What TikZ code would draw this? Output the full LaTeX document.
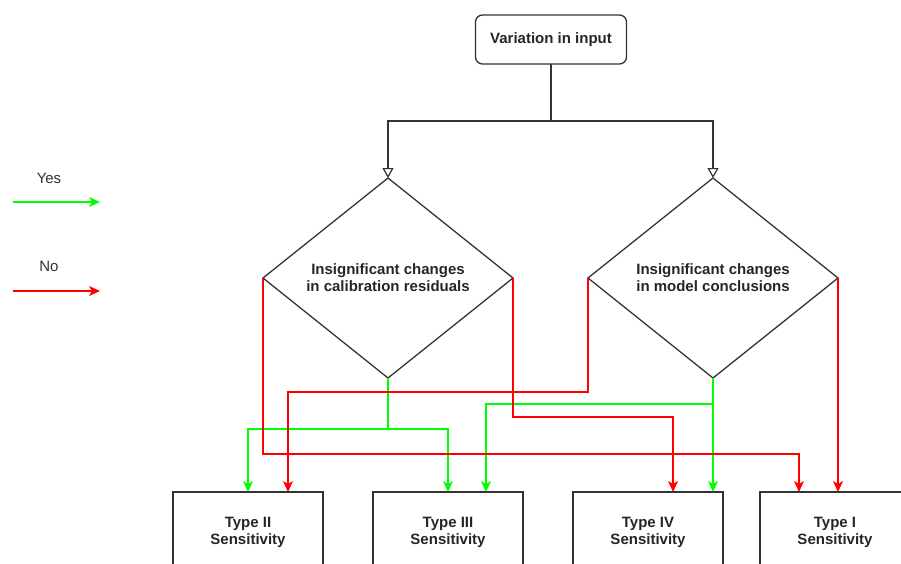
\documentclass[tikz,border=0pt]{standalone}
\usepackage{fontspec}
\setmainfont{Liberation Sans}
\usetikzlibrary{shapes.geometric,arrows.meta}
\definecolor{yesg}{HTML}{00FF00}
\definecolor{nor}{HTML}{FF0000}
\definecolor{edgec}{HTML}{333333}
\newcommand{\boxlines}[2]{\raisebox{6pt}{\begin{tabular}{@{}c@{}}#1\\[-1pt]#2\end{tabular}}}
\begin{document}
\begin{tikzpicture}[x=1pt,y=-1pt,
  startbox/.style={draw=edgec,line width=1.3pt,rounded corners=7pt,minimum width=151pt,minimum height=49pt,inner sep=0pt,outer sep=0pt,font=\bfseries\fontsize{15}{18}\selectfont,text=black!85},
  dia/.style={diamond,draw=edgec,line width=1.3pt,minimum width=250pt,minimum height=200pt,inner sep=0pt,outer sep=0pt,align=center,font=\bfseries\fontsize{15}{17}\selectfont,text=black!85},
  typebox/.style={draw=edgec,line width=1.3pt,minimum width=150pt,minimum height=80pt,inner sep=0pt,outer sep=0pt,font=\bfseries\fontsize{15}{18}\selectfont,text=black!85},
  legtext/.style={font=\fontsize{15}{18}\selectfont,text=black!80},
  topline/.style={draw=edgec,line width=1.2pt,-{Triangle[open,length=10pt,width=11pt]}},
  yesline/.style={draw=yesg,line width=1.3pt,-{Stealth[length=11pt,width=10pt,inset=3pt]}},
  noline/.style={draw=nor,line width=1.3pt,-{Stealth[length=11pt,width=10pt,inset=3pt]}},
  yesplain/.style={draw=yesg,line width=1.3pt},
]
\useasboundingbox (0,0) rectangle (901,563);
\clip (0,0) rectangle (901,563);

% nodes
\node[startbox] (in) at (551,39.5) {Variation in input};
\node[dia] (d1) at (388,278) {Insignificant changes\\in calibration residuals};
\node[dia] (d2) at (713,278) {Insignificant changes\\in model conclusions};
\node[typebox] (t2) at (248,532) {\boxlines{Type II}{Sensitivity}};
\node[typebox] (t3) at (448,532) {\boxlines{Type III}{Sensitivity}};
\node[typebox] (t4) at (648,532) {\boxlines{Type IV}{Sensitivity}};
\node[typebox] (t1) at (835,532) {\boxlines{Type I}{Sensitivity}};

% legend
\node[legtext] (yes) at (49,178) {Yes};
\node[legtext] (no) at (49,266) {No};
\coordinate (ya) at (13,202);
\coordinate (yb) at (100,202);
\coordinate (na) at (13,291);
\coordinate (nb) at (100,291);
\draw[yesline] (ya) -- (yb);
\draw[noline] (na) -- (nb);

% top connectors
\coordinate (split) at (551,121);
\draw[topline] (in.south) -- (split) -| (d1.north);
\draw[topline] (split) -| (d2.north);

% yes connectors
\coordinate (g1) at (388,429);
\draw[yesplain] (d1.south) -- (g1);
\draw[yesline] (g1) -| (t2.north);
\draw[yesline] (g1) -| (t3.north);
\coordinate (g2) at (713,404);
\draw[yesline] (d2.south) -- (d2.south |- t4.north);
\draw[yesline] (g2) -| ([xshift=38pt]t3.north);

% no connectors
\draw[noline] (d1.west) |- (263,454) -| ([xshift=-36pt]t1.north);
\draw[noline] (d1.east) |- (513,417) -| ([xshift=25pt]t4.north);
\draw[noline] (d2.west) |- (588,392) -| ([xshift=40pt]t2.north);
\draw[noline] (d2.east) -- (d2.east |- t1.north);
\end{tikzpicture}
\end{document}
